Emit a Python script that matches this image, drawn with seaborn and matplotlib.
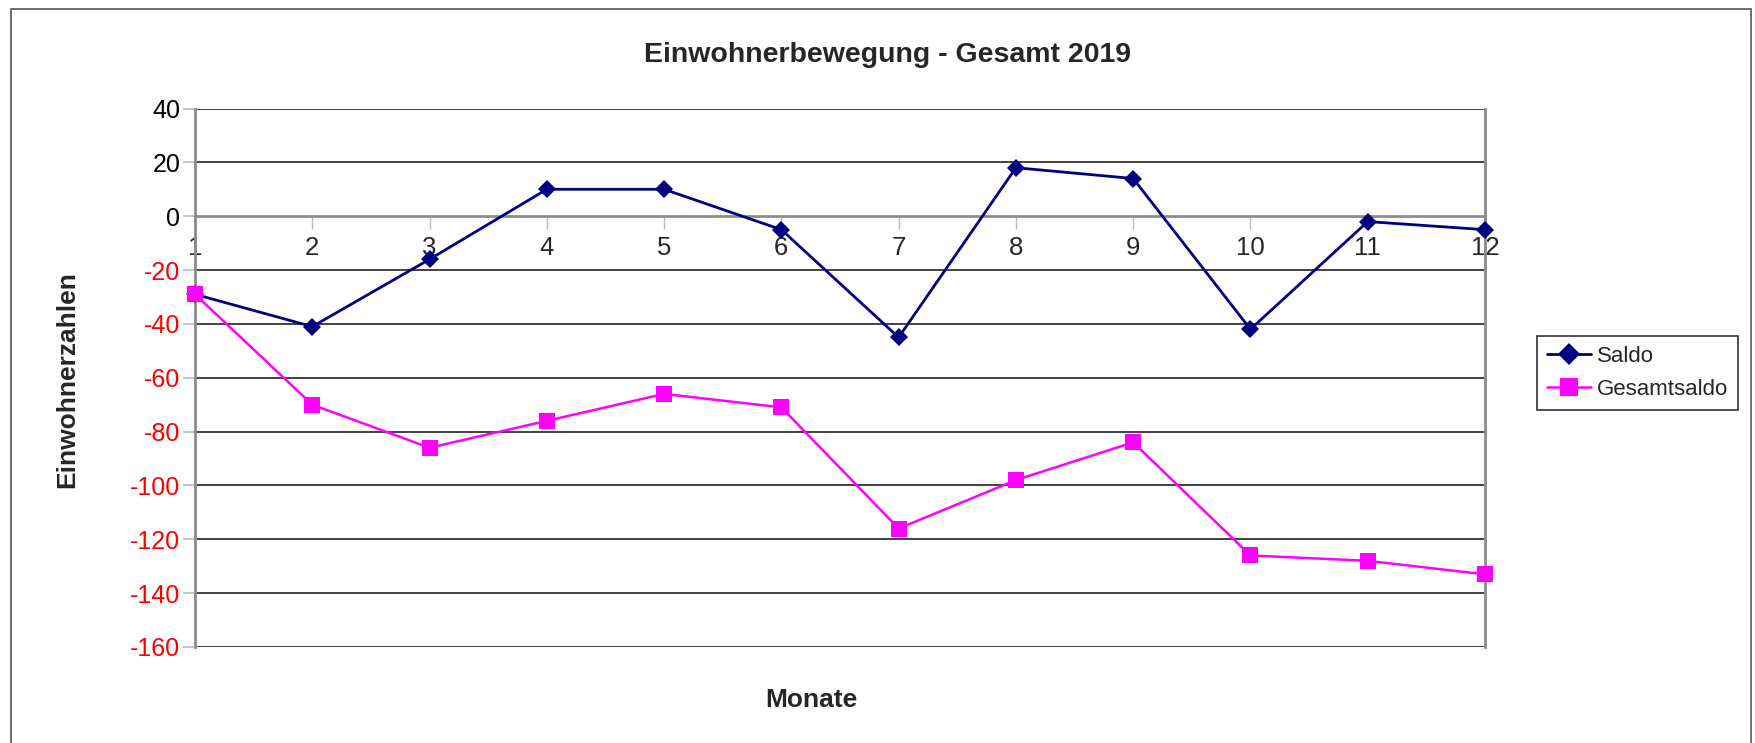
import matplotlib
matplotlib.use("Agg")
import matplotlib.pyplot as plt
import seaborn as sns
import pandas as pd
from matplotlib.patches import Rectangle

months = [1, 2, 3, 4, 5, 6, 7, 8, 9, 10, 11, 12]
saldo = [-29, -41, -16, 10, 10, -5, -45, 18, 14, -42, -2, -5]
gesamtsaldo = [-29, -70, -86, -76, -66, -71, -116, -98, -84, -126, -128, -133]
y_ticks = [40, 20, 0, -20, -40, -60, -80, -100, -120, -140, -160]

sns.set_style("white")
plt.rcParams['font.family'] = ['Liberation Sans', 'DejaVu Sans']
plt.rcParams['axes.unicode_minus'] = False

W, H = 1755, 743
fig = plt.figure(figsize=(W / 100, H / 100), dpi=100)
fig.patch.set_facecolor("white")

# outer frame
fig.add_artist(Rectangle((11 / W, -0.05), (1751 - 11) / W, 1.05 - 9 / H,
                         transform=fig.transFigure, fill=False,
                         edgecolor="#555555", linewidth=1.2))

l, r = 195 / W, 1485 / W
b, t = (H - 647) / H, (H - 108.5) / H
ax = fig.add_axes([l, b, r - l, t - b])

df = pd.DataFrame({
    "Monat": months * 2,
    "Wert": saldo + gesamtsaldo,
    "Serie": ["Saldo"] * 12 + ["Gesamtsaldo"] * 12,
})

sns.lineplot(data=df, x="Monat", y="Wert", hue="Serie", style="Serie",
             palette={"Saldo": "#000080", "Gesamtsaldo": "#FF00FF"},
             markers={"Saldo": "D", "Gesamtsaldo": "s"},
             dashes=False, linewidth=2, markersize=10, markeredgewidth=0,
             ax=ax, legend=True, clip_on=False, zorder=5)

# marker sizes per series
for ln in ax.get_lines():
    if ln.get_marker() == "s":
        ln.set_markersize(11)
        ln.set_linewidth(1.8)
    elif ln.get_marker() == "D":
        ln.set_markersize(9.5)

ax.set_xlim(1, 12)
ax.set_ylim(-160, 40)
ax.set_yticks(y_ticks)
ax.set_xticks(months)
ax.set_xticklabels([str(m) for m in months])

for yv in y_ticks:
    if yv not in (0,):
        ax.axhline(yv, color="#222222", linewidth=1.2, zorder=1)

for side in ["left", "right"]:
    ax.spines[side].set_color("#8c8c8c")
    ax.spines[side].set_linewidth(2)
ax.spines["top"].set_visible(False)
ax.spines["bottom"].set_position(("data", 0))
ax.spines["bottom"].set_color("#8c8c8c")
ax.spines["bottom"].set_linewidth(2)

ax.tick_params(axis="y", which="major", left=True, length=9, width=1.2,
               color="#bbbbbb", labelsize=18, pad=1.5)
ax.tick_params(axis="x", which="major", bottom=True, length=9, width=1,
               color="#bbbbbb", labelsize=18.5, pad=5, direction="out")

for lab, v in zip(ax.get_yticklabels(), y_ticks):
    lab.set_color("red" if v < 0 else "black")

ax.set_xlabel("")
ax.set_ylabel("")

fig.text(67 / W, 1 - 380 / H, "Einwohnerzahlen", rotation=90, fontsize=19,
         fontweight="bold", ha="center", va="center")
fig.text(811 / W, 1 - 700 / H, "Monate", fontsize=19, fontweight="bold",
         ha="center", va="center")
fig.text(888 / W, 1 - 55 / H, "Einwohnerbewegung - Gesamt 2019", fontsize=20.5,
         fontweight="bold", ha="center", va="center")

handles, labels = ax.get_legend_handles_labels()
ax.get_legend().remove()
leg = fig.legend(handles, labels, loc="upper left",
                 bbox_to_anchor=(1537 / W, 1 - 336 / H), frameon=True,
                 fontsize=16, handlelength=2.0, borderpad=0.45,
                 labelspacing=0.55, handletextpad=0.25, fancybox=False,
                 borderaxespad=0, markerscale=1.15)
leg.get_frame().set_edgecolor("black")
leg.get_frame().set_linewidth(1.2)

fig.savefig("out.png", dpi=100)
